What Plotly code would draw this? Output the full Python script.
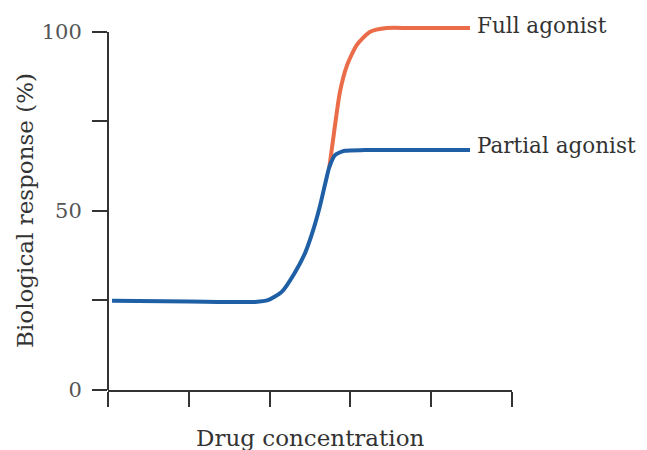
import plotly.graph_objects as go

# Drug concentration (arbitrary units, axis 0-5) and response (%)
partial_x = [0.05, 1.01, 1.82, 1.98, 2.15, 2.31, 2.44, 2.54, 2.62, 2.69, 2.74, 2.81, 2.93, 3.18, 4.48]
partial_y = [24.9, 24.7, 24.6, 25.1, 27.4, 32.7, 38.3, 44.7, 51.1, 57.8, 62.3, 65.6, 66.8, 67.0, 67.0]

full_x = [2.74, 2.81, 2.87, 2.96, 3.08, 3.24, 3.45, 3.74, 4.48]
full_y = [62.3, 74.0, 83.2, 90.8, 96.4, 100.0, 101.1, 101.1, 101.1]

x_ticks = [0, 1, 2, 3, 4, 5]
y_ticks = [0, 25, 50, 75, 100]
y_tick_labels = ["0", "", "50", "", "100"]
Y_AXIS_MAX = 100     # the drawn axis ends at 100
Y_VIEW_MAX = 102.5   # a little head-room so the full-agonist plateau is not clipped

series_names = ["Full agonist", "Partial agonist"]

ORANGE = "#EA6C48"
BLUE = "#1F5FA6"
AXIS = "#333333"
FONT = "DejaVu Serif"

fig = go.Figure()
fig.add_trace(go.Scatter(x=full_x, y=full_y, mode="lines", name=series_names[0],
                         line=dict(color=ORANGE, width=4, shape="spline", smoothing=0.6)))
fig.add_trace(go.Scatter(x=partial_x, y=partial_y, mode="lines", name=series_names[1],
                         line=dict(color=BLUE, width=4, shape="spline", smoothing=0.6)))

for name, xs, ys, dy in [(series_names[0], full_x, full_y, 3), (series_names[1], partial_x, partial_y, 5)]:
    fig.add_annotation(x=xs[-1], y=ys[-1], text=name, showarrow=False,
                       xanchor="left", yanchor="middle", xshift=5, yshift=dy,
                       font=dict(family=FONT, size=21.5, color="#333333"))

# y axis line only up to 100
fig.add_shape(type="line", xref="paper", yref="y", x0=0, x1=0, y0=0, y1=Y_AXIS_MAX,
              line=dict(color=AXIS, width=2), layer="above")

fig.add_annotation(xref="paper", yref="paper", x=0.5, y=0, yshift=-33,
                   text="Drug concentration", showarrow=False,
                   xanchor="center", yanchor="top",
                   font=dict(family=FONT, size=23, color="#333333"))
fig.add_annotation(xref="paper", yref="paper", x=0, y=Y_AXIS_MAX / 2 / Y_VIEW_MAX, xshift=-83,
                   text="Biological response (%)", showarrow=False, textangle=-90,
                   xanchor="center", yanchor="middle",
                   font=dict(family=FONT, size=23, color="#333333"))

plot_h = 358 * Y_VIEW_MAX / Y_AXIS_MAX
fig.update_layout(
    width=639, height=442,
    margin=dict(l=100, r=135, t=442 - 60 - plot_h, b=60),
    paper_bgcolor="white", plot_bgcolor="white",
    showlegend=False,
    xaxis=dict(range=[0, 5], tickvals=x_ticks, showticklabels=False,
               showline=True, linecolor=AXIS, linewidth=2,
               ticks="outside", ticklen=15, tickwidth=2, tickcolor=AXIS,
               showgrid=False, zeroline=False, fixedrange=True),
    yaxis=dict(range=[0, Y_VIEW_MAX], tickvals=y_ticks, ticktext=y_tick_labels,
               showline=False,
               ticks="outside", ticklen=15, tickwidth=2, tickcolor=AXIS,
               ticklabelstandoff=6,
               tickfont=dict(family=FONT, size=21, color="#555555"),
               showgrid=False, zeroline=False, fixedrange=True),
)

fig.write_html("out.html")
